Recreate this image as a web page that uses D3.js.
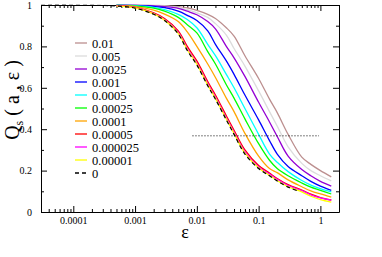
<!DOCTYPE html>
<meta charset="utf-8">
<style>
body { margin: 0; background: #fff; }
svg text { font-family: "Liberation Serif", "DejaVu Serif", serif; fill: #000; }
.axis path, .axis line { stroke: #000; }
</style>
<body>
<svg width="382" height="257"></svg>
<script src="https://cdn.jsdelivr.net/npm/d3@7"></script>
<script>
// epsilon grid shared by the coloured curves
var eps = [0.0005, 0.001, 0.002, 0.003, 0.005, 0.007, 0.01, 0.015, 0.02, 0.03,
           0.04, 0.06, 0.1, 0.15, 0.2, 0.3, 0.5, 0.7, 1.0, 1.5];

var labels = ["0.01", "0.005", "0.0025", "0.001", "0.0005", "0.00025", "0.0001", "0.00005", "0.000025", "0.00001", "0"];
var colors = ["#bc8f8f", "#dcdcdc", "#9400d3", "#0000ff", "#00ffff", "#00ff00", "#ffa500", "#ff0000", "#ff00ff", "#ffff00", "#000"];

var q001     = [1.0, 1.0, 0.998, 0.997, 0.992, 0.986, 0.974, 0.955, 0.935, 0.89, 0.85, 0.755, 0.645, 0.545, 0.48, 0.375, 0.265, 0.23, 0.20, 0.17];
var q0005    = [1.0, 1.0, 0.997, 0.995, 0.988, 0.978, 0.962, 0.94, 0.91, 0.855, 0.79, 0.705, 0.585, 0.485, 0.415, 0.315, 0.235, 0.20, 0.175, 0.15];
var q00025   = [1.0, 0.999, 0.996, 0.992, 0.984, 0.97, 0.953, 0.92, 0.885, 0.80, 0.745, 0.655, 0.53, 0.435, 0.365, 0.27, 0.205, 0.175, 0.148, 0.125];
var q0001    = [1.0, 0.998, 0.993, 0.987, 0.97, 0.95, 0.925, 0.875, 0.81, 0.73, 0.665, 0.565, 0.445, 0.345, 0.28, 0.22, 0.175, 0.148, 0.125, 0.105];
var q00005   = [1.0, 0.997, 0.989, 0.978, 0.955, 0.93, 0.89, 0.81, 0.755, 0.665, 0.60, 0.50, 0.375, 0.28, 0.24, 0.195, 0.152, 0.13, 0.113, 0.097];
var q000025  = [0.999, 0.995, 0.985, 0.97, 0.94, 0.905, 0.865, 0.775, 0.715, 0.615, 0.55, 0.45, 0.33, 0.25, 0.21, 0.175, 0.14, 0.12, 0.105, 0.087];
var q00001   = [0.998, 0.992, 0.975, 0.956, 0.92, 0.87, 0.80, 0.715, 0.65, 0.55, 0.485, 0.38, 0.27, 0.21, 0.19, 0.155, 0.122, 0.102, 0.087, 0.072];
var q000005  = [0.997, 0.988, 0.962, 0.935, 0.875, 0.80, 0.73, 0.63, 0.565, 0.465, 0.395, 0.30, 0.225, 0.188, 0.162, 0.132, 0.106, 0.086, 0.07, 0.058];
var q0000025 = [0.996, 0.987, 0.958, 0.93, 0.868, 0.79, 0.72, 0.62, 0.555, 0.455, 0.385, 0.29, 0.218, 0.183, 0.158, 0.128, 0.103, 0.083, 0.068, 0.057];
var q000001  = [0.995, 0.986, 0.957, 0.927, 0.863, 0.784, 0.714, 0.614, 0.549, 0.449, 0.379, 0.284, 0.213, 0.177, 0.152, 0.122, 0.097, 0.076, 0.06, 0.048];

// a = 0 (dashed) has its own grid
var eps0 = [0.00003, 0.0001, 0.0003, 0.0005, 0.001, 0.002, 0.003, 0.005, 0.007, 0.01,
            0.015, 0.02, 0.03, 0.04, 0.06, 0.1, 0.15, 0.2, 0.3, 0.45];
var q0   = [1.0, 1.0, 0.998, 0.995, 0.985, 0.955, 0.925, 0.86, 0.78, 0.71,
            0.61, 0.545, 0.445, 0.375, 0.28, 0.21, 0.175, 0.15, 0.12, 0.10];

// dotted 1/e reference line
var refEps = [0.0085, 0.95];
var refQ = 0.368;

var xTicks = [0.0001, 0.001, 0.01, 0.1, 1];
var yTicks = [0, 0.2, 0.4, 0.6, 0.8, 1];

var svg = d3.select("svg"),
    margin = {top: 5, right: 43, bottom: 45, left: 41},
    width = 382 - margin.left - margin.right,
    height = 257 - margin.top - margin.bottom,
    g = svg.append("g").attr("transform", "translate(" + margin.left + "," + margin.top + ")");

svg.append("clipPath").attr("id", "clip")
  .append("rect").attr("width", width).attr("height", height + 1).attr("y", -0.5);

var x = d3.scaleLog().domain([0.00003, 2]).range([0, width]),
    y = d3.scaleLinear().domain([0, 1]).range([height, 0]);

var minorX = [];
[0.00001, 0.0001, 0.001, 0.01, 0.1, 1].forEach(function(d) {
  for (var k = 2; k <= 9; k++) {
    var v = d * k;
    if (v >= 0.00003 && v <= 2) minorX.push(v);
  }
});
var minorY = [0.1, 0.3, 0.5, 0.7, 0.9];

function fmt(d) { return String(d); }

// bottom
g.append("g").attr("class", "axis").attr("transform", "translate(0," + height + ")")
    .call(d3.axisBottom(x).tickValues(xTicks).tickFormat(fmt).tickSizeInner(-6).tickSizeOuter(0).tickPadding(5))
    .call(function(s) { s.selectAll("text").style("font-size", "10px"); });
g.append("g").attr("class", "axis").attr("transform", "translate(0," + height + ")")
    .call(d3.axisBottom(x).tickValues(minorX).tickFormat("").tickSizeInner(-3).tickSizeOuter(0))
    .select(".domain").remove();
// top
g.append("g").attr("class", "axis")
    .call(d3.axisTop(x).tickValues(xTicks).tickFormat("").tickSizeInner(-6).tickSizeOuter(0));
g.append("g").attr("class", "axis")
    .call(d3.axisTop(x).tickValues(minorX).tickFormat("").tickSizeInner(-3).tickSizeOuter(0))
    .select(".domain").remove();
// left
g.append("g").attr("class", "axis")
    .call(d3.axisLeft(y).tickValues(yTicks).tickFormat(fmt).tickSizeInner(-6).tickSizeOuter(0).tickPadding(9))
    .call(function(s) { s.selectAll("text").style("font-size", "10px"); });
g.append("g").attr("class", "axis")
    .call(d3.axisLeft(y).tickValues(minorY).tickFormat("").tickSizeInner(-3).tickSizeOuter(0))
    .select(".domain").remove();
// right
g.append("g").attr("class", "axis").attr("transform", "translate(" + width + ",0)")
    .call(d3.axisRight(y).tickValues(yTicks).tickFormat("").tickSizeInner(-6).tickSizeOuter(0));
g.append("g").attr("class", "axis").attr("transform", "translate(" + width + ",0)")
    .call(d3.axisRight(y).tickValues(minorY).tickFormat("").tickSizeInner(-3).tickSizeOuter(0))
    .select(".domain").remove();

var line = d3.line()
    .curve(d3.curveCatmullRom.alpha(0.5))
    .x(function(d) { return x(d[0]); })
    .y(function(d) { return y(d[1]); });

var series = [q001, q0005, q00025, q0001, q00005, q000025, q00001, q000005, q0000025, q000001];

var plot = g.append("g").attr("clip-path", "url(#clip)");

series.forEach(function(vals, i) {
  plot.append("path")
      .datum(eps.map(function(e, j) { return [e, vals[j]]; }))
      .attr("fill", "none")
      .attr("stroke", colors[i])
      .attr("stroke-width", 1.3)
      .attr("d", line);
});

plot.append("path")
    .datum(eps0.map(function(e, j) { return [e, q0[j]]; }))
    .attr("fill", "none")
    .attr("stroke", "#000")
    .attr("stroke-width", 1.2)
    .attr("stroke-dasharray", "4,3")
    .attr("d", line);

g.append("path")
    .datum(refEps.map(function(e) { return [e, refQ]; }))
    .attr("fill", "none")
    .attr("stroke", "#000")
    .attr("stroke-width", 1)
    .attr("stroke-dasharray", "1,2")
    .attr("d", d3.line().x(function(d) { return x(d[0]); }).y(function(d) { return y(d[1]); }));

// legend
var leg = svg.append("g").attr("transform", "translate(75,43)");
labels.forEach(function(l, i) {
  var r = leg.append("g").attr("transform", "translate(0," + (i * 13) + ")");
  r.append("line").attr("x1", 0).attr("x2", 12).attr("y1", 0).attr("y2", 0)
      .attr("stroke", colors[i]).attr("stroke-width", 1.3)
      .attr("stroke-dasharray", i === labels.length - 1 ? "4,3" : null);
  r.append("text").attr("x", 17).attr("y", 4.5).style("font-size", "12.5px").text(l);
});

// axis titles
svg.append("text")
    .attr("x", 185).attr("y", 238)
    .attr("text-anchor", "middle")
    .style("font-size", "18px")
    .text("ε");

var yl = svg.append("text")
    .attr("transform", "translate(19,100) rotate(-90)")
    .attr("text-anchor", "middle")
    .style("font-size", "20px");
yl.append("tspan").text("Q");
yl.append("tspan").attr("dy", 4).style("font-size", "12px").text("s");
yl.append("tspan").attr("dy", -4).text(" ( a , ε )");
</script>
</body>
